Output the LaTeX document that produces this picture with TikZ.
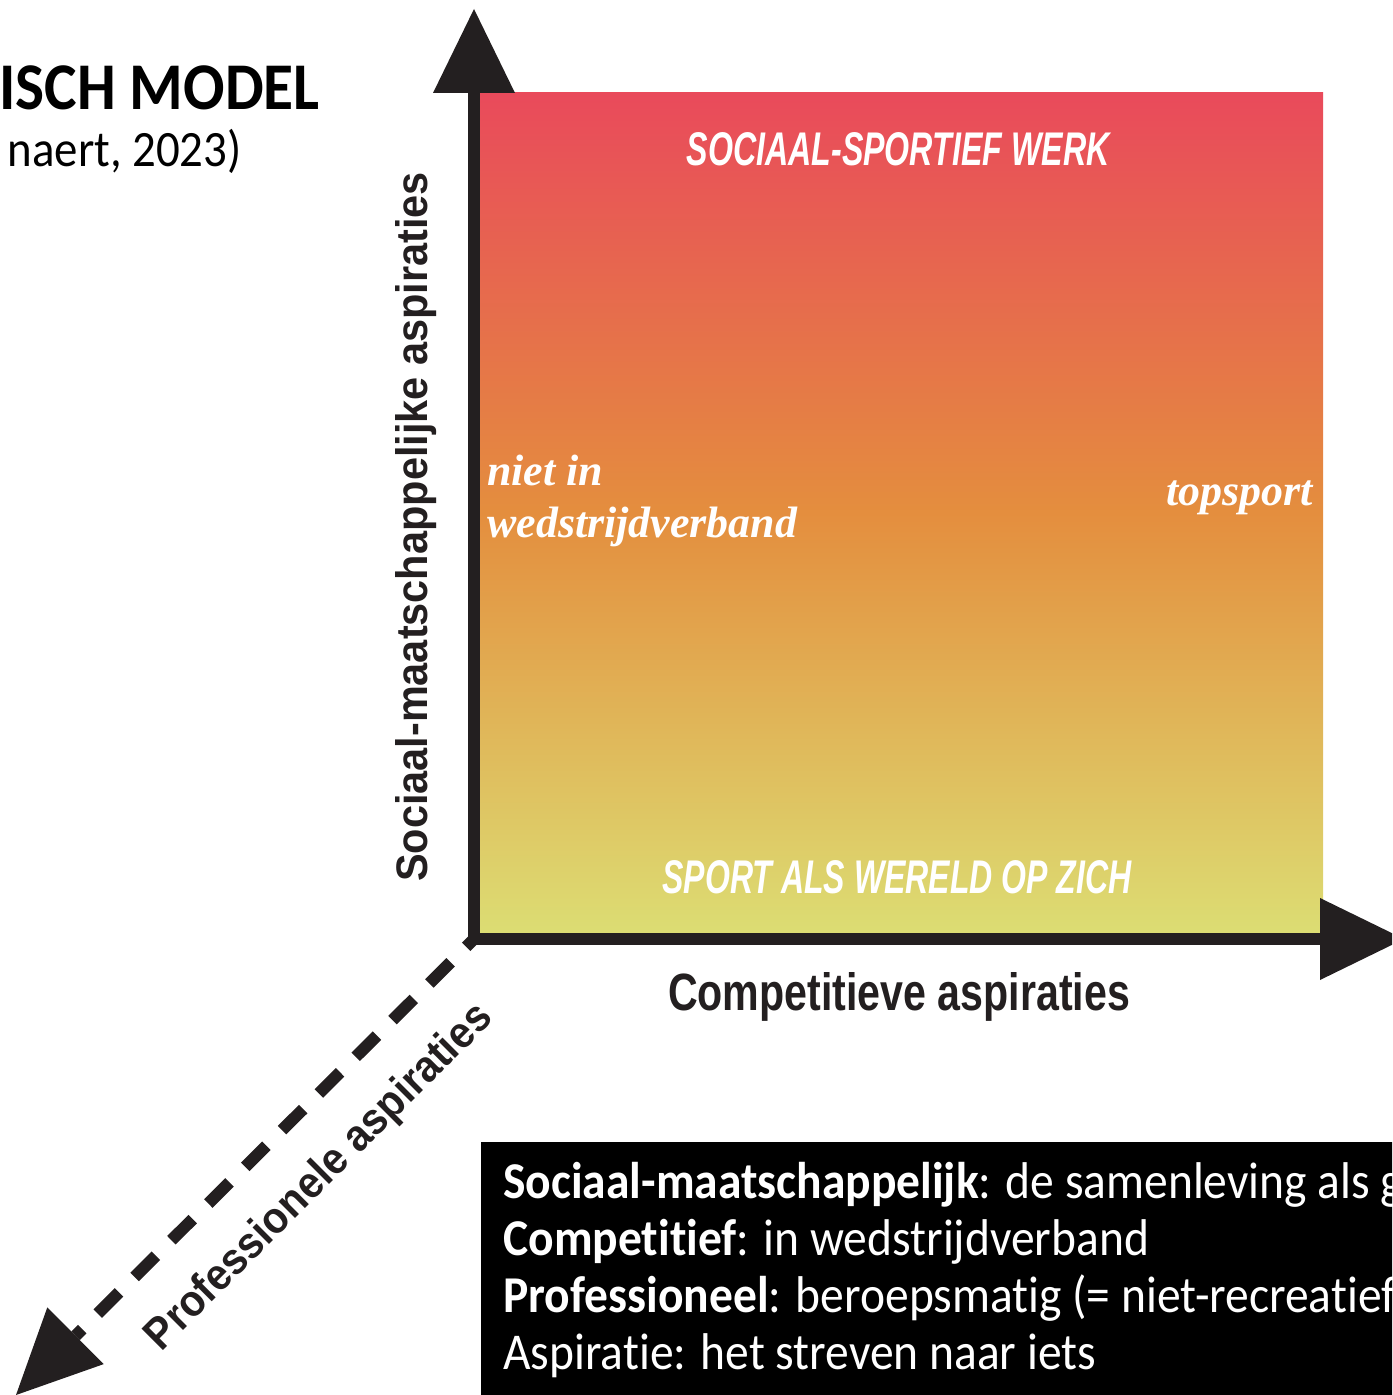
\documentclass[tikz,border=0pt]{standalone}
\usepackage{fontspec}
\setmainfont{Carlito}
\newfontfamily\boxfont[FakeStretch=0.92,RawFeature={-liga}]{Carlito}
\newfontfamily\helv{Liberation Sans}
\newfontfamily\tms{Liberation Serif}
\usetikzlibrary{arrows.meta}
\definecolor{gradtop}{RGB}{233,74,91}
\definecolor{gradmid}{RGB}{228,142,62}
\definecolor{gradbot}{RGB}{220,221,115}
\definecolor{axisblack}{RGB}{35,31,32}
\begin{document}
\begin{tikzpicture}[x=0.02cm,y=0.02cm,
  axisline/.style={line width=0.24cm, draw=axisblack},
  bigtip/.style={-{Triangle[length=1.68cm,width=1.64cm,line width=0pt]}},
  axislabel/.style={inner sep=0pt, text=axisblack},
  fieldlabel/.style={inner sep=0pt, text=white},
  seriflabel/.style={inner sep=0pt, text=white, font=\tms\bfseries\itshape\fontsize{25pt}{28pt}\selectfont},
  legendline/.style={inner sep=0pt, text=white, anchor=base west, font=\boxfont\fontsize{29.4pt}{33pt}\selectfont},
  titletext/.style={inner sep=0pt, text=black, anchor=base east}]
\useasboundingbox (0,0) rectangle (1392,-1395);
\clip (0,0) rectangle (1392,-1395);

% gradient field
\shade[top color=gradtop, bottom color=gradbot, middle color=gradmid] (480,-93) rectangle (1323,-933);

% axes
\coordinate (O) at (474,-939);
\coordinate (Ytip) at (474,-9);
\coordinate (Xtip) at (1404,-939);
\coordinate (Ztip) at (16,-1395);
\draw[axisline, line cap=rect, bigtip] (O) -- (Ytip);
\draw[axisline, line cap=rect, bigtip] (O) -- (Xtip);
\draw[axisline, dash pattern=on 0.6cm off 0.44cm, dash phase=0.38cm,
      -{Triangle[length=1.68cm,width=1.6cm,line width=0pt]}] (O) -- (Ztip);

% axis labels
\node[axislabel, rotate=90, anchor=base] (ylab) at (427,-527)
  {\resizebox{14.2cm}{0.64cm}{\helv\bfseries Sociaal-maatschappelijke aspiraties}};
\node[axislabel, anchor=base] (xlab) at (899,-1010)
  {\resizebox{9.24cm}{0.76cm}{\helv\bfseries Competitieve aspiraties}};
\node[axislabel, rotate=45, anchor=base] (zlab) at (328,-1186)
  {\resizebox{9.4cm}{0.64cm}{\helv\bfseries Professionele aspiraties}};

% field labels
\node[fieldlabel, anchor=base] (topfield) at (898,-166)
  {\resizebox{8.46cm}{0.66cm}{\helv\bfseries\itshape SOCIAAL-SPORTIEF WERK}};
\node[fieldlabel, anchor=base] (botfield) at (897,-893)
  {\resizebox{9.38cm}{0.66cm}{\helv\bfseries\itshape SPORT ALS WERELD OP ZICH}};
\node[seriflabel, anchor=base west] (niet1) at (487,-485) {niet in};
\node[seriflabel, anchor=base west] (niet2) at (487,-537) {wedstrijdverband};
\node[seriflabel, anchor=base east] (top) at (1313,-505) {topsport};

% title
\node[titletext, font=\boxfont\bfseries\fontsize{38pt}{40pt}\selectfont] (title) at (320,-110) {ISCH MODEL};
\node[titletext, font=\boxfont\fontsize{29pt}{32pt}\selectfont] (subtitle) at (242,-167) {naert, 2023)};

% legend box
\fill[black] (481,-1142) rectangle (1400,-1400);
\node[legendline] (l1) at (503,-1198) {\textbf{Sociaal-maatschappelijk}: de samenleving als g};
\node[legendline] (l2) at (503,-1255) {\textbf{Competitief}: in wedstrijdverband};
\node[legendline] (l3) at (503,-1312) {\textbf{Professioneel}: beroepsmatig (= niet-recreatief};
\node[legendline] (l4) at (503,-1369) {Aspiratie: het streven naar iets};
\end{tikzpicture}
\end{document}
